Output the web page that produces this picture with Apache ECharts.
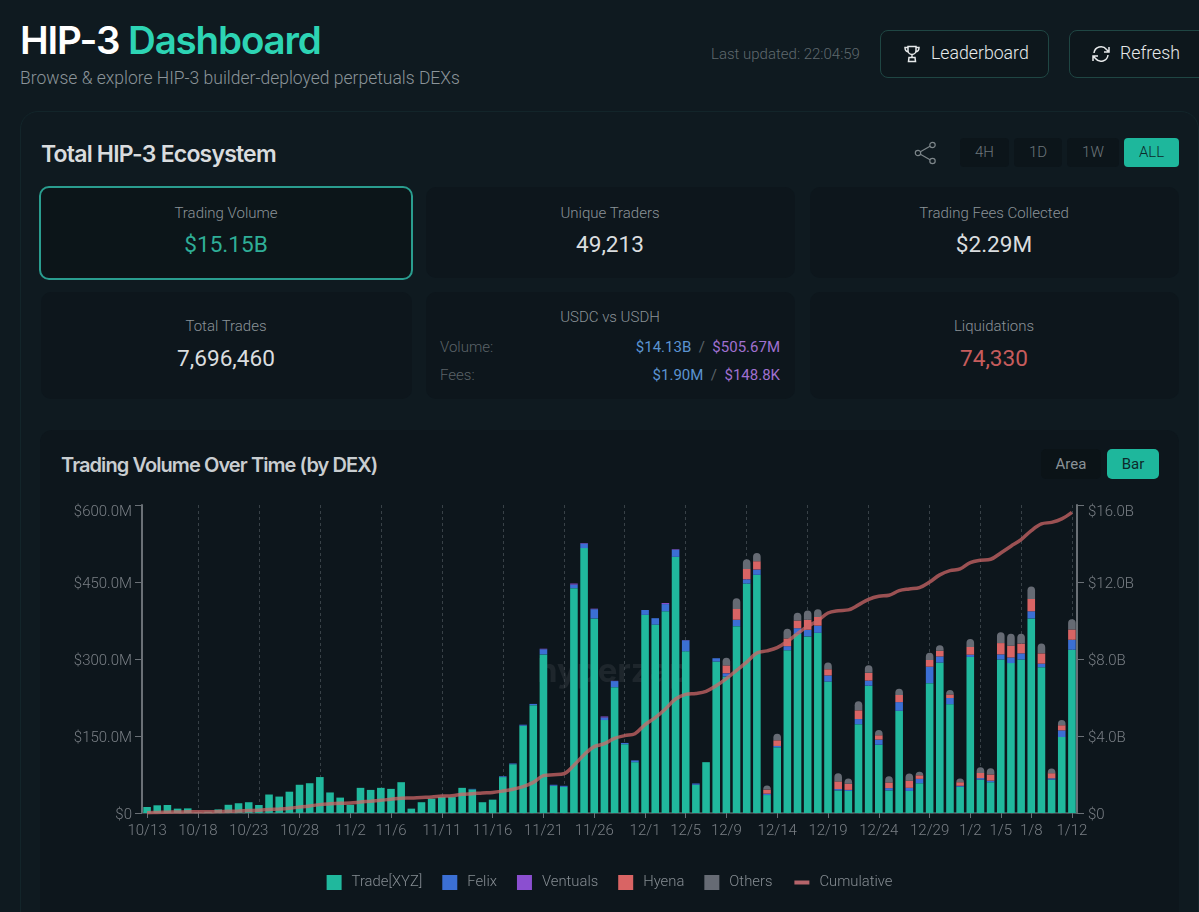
<!DOCTYPE html>
<html><head><meta charset="utf-8">
<script src="https://cdn.jsdelivr.net/npm/echarts@6/dist/echarts.min.js"></script>
<style>
html,body{margin:0;padding:0;width:1199px;height:912px;overflow:hidden;background:#0f1a20;font-family:Roboto,sans-serif}
.a{position:absolute;white-space:nowrap}
.title{left:20px;top:16px;font:600 38.5px/48px Inter,sans-serif;letter-spacing:-1.15px;color:#fff}
.title span{color:#2dd4b4}
.sub{left:20px;top:66px;font:300 17.5px/24px Roboto,sans-serif;color:#8b9499}
.upd{left:711px;top:44px;font:300 15px/20px Roboto,sans-serif;color:#5f696e}
.btn{box-sizing:border-box;top:30px;height:48px;border:1px solid #1f4643;border-radius:8px;background:#0d171c;color:#e6e9ea;font:300 17.7px/44px Roboto,sans-serif}
.btn svg{position:absolute;top:13px}
.panel{box-sizing:border-box;left:20px;top:111px;width:1179px;height:830px;border:1px solid #13252a;border-radius:18px;background:#0f1a20}
.h2{left:41px;top:139px;font:600 23px/30px Inter,sans-serif;letter-spacing:-.8px;color:#d9dcde}
.per{box-sizing:border-box;top:138px;height:29px;border-radius:4px;background:#0c151a;color:#6d767b;text-align:center;font:300 15px/29px Roboto,sans-serif}
.per.on{background:#1eb79c;color:#0d2a2a}
.card{box-sizing:border-box;border-radius:10px;background:#0d161c}
.card.sel{border:2px solid #2a9d8f;background:#0c1519}
.lb{transform:translateX(-50%);font:300 15px/20px Roboto,sans-serif;color:#8b9398}
.val{transform:translateX(-50%);font:400 22.6px/28px Roboto,sans-serif;color:#dadddf}
.rowl{font:300 15px/20px Roboto,sans-serif;color:#5b6368;left:440px}
.rowr{right:419px;font:400 15px/20px Roboto,sans-serif;color:#5b6368}
.b{color:#5b93d1}.p{color:#a070d0}
.chartcard{left:40px;top:430px;width:1139px;height:520px;border-radius:12px;background:#0d161c}
.h3{left:61px;top:451px;font:600 20px/28px Inter,sans-serif;letter-spacing:-.92px;color:#c9cdd0}
.tog{box-sizing:border-box;top:449px;height:30px;border-radius:5px;text-align:center;font:400 15px/31px Roboto,sans-serif;background:#0b1317;color:#8a9297}
.tog.on{background:#1eb79c;color:#0d2a2a}
#chart{position:absolute;left:40px;top:430px;width:1139px;height:482px}
</style></head><body>
<div class="a title">HIP-3 <span>Dashboard</span></div>
<div class="a sub">Browse &amp; explore HIP-3 builder-deployed perpetuals DEXs</div>
<div class="a upd">Last updated: 22:04:59</div>
<div class="a btn" style="left:880px;width:169px;padding-left:50px">
<svg style="left:21px" width="20" height="20" viewBox="0 0 20 20" fill="none" stroke="#e6e9ea" stroke-width="1.5"><path d="M6 2.500h8v4a4 4 0 0 1-8 0zM6 3.500H3c0 2.500 1 4 3.200 4.500M14 3.500h3c0 2.500-1 4-3.200 4.500M10 10.500v3M7 13.500h6l.5 4h-7z"/></svg>Leaderboard</div>
<div class="a btn" style="left:1069px;width:160px;padding-left:50px">
<svg style="left:21px" width="20" height="20" viewBox="0 0 20 20" fill="none" stroke="#e6e9ea" stroke-width="1.500"><path d="M3 9a7 7 0 0 1 12.500-3.500L18 8M18 3v5h-5M17 11a7 7 0 0 1-12.500 3.500L2 12M2 17v-5h5"/></svg>Refresh</div>
<div class="a panel"></div>
<div class="a h2">Total HIP-3 Ecosystem</div>
<svg class="a" style="left:914px;top:141px" width="23" height="24" viewBox="0 0 23 24" fill="none" stroke="#7d868a" stroke-width="1.200"><circle cx="18.500" cy="4" r="2.700"/><circle cx="4" cy="12" r="2.700"/><circle cx="18.500" cy="20" r="2.700"/><path d="M6.400 10.700L16 5.300M6.400 13.300L16 18.700"/></svg>
<div class="a per" style="left:960px;width:49px">4H</div>
<div class="a per" style="left:1014px;width:48px">1D</div>
<div class="a per" style="left:1067px;width:52px">1W</div>
<div class="a per on" style="left:1124px;width:55px">ALL</div>

<div class="a card sel" style="left:39px;top:186px;width:374px;height:94px"></div>
<div class="a lb" style="left:226px;top:203px">Trading Volume</div>
<div class="a val" style="left:226px;top:231px;color:#2fae97">$15.15B</div>
<div class="a card" style="left:426px;top:187px;width:369px;height:91px"></div>
<div class="a lb" style="left:610px;top:203px">Unique Traders</div>
<div class="a val" style="left:610px;top:231px">49,213</div>
<div class="a card" style="left:810px;top:187px;width:369px;height:91px"></div>
<div class="a lb" style="left:994px;top:203px">Trading Fees Collected</div>
<div class="a val" style="left:994px;top:231px">$2.29M</div>

<div class="a card" style="left:41px;top:292px;width:371px;height:107px"></div>
<div class="a lb" style="left:226px;top:316px">Total Trades</div>
<div class="a val" style="left:226px;top:345px">7,696,460</div>
<div class="a card" style="left:426px;top:292px;width:369px;height:107px"></div>
<div class="a lb" style="left:610px;top:307px">USDC vs USDH</div>
<div class="a rowl" style="top:337px">Volume:</div>
<div class="a rowr" style="top:337px"><span class="b">$14.13B</span>&nbsp; / &nbsp;<span class="p">$505.67M</span></div>
<div class="a rowl" style="top:365px">Fees:</div>
<div class="a rowr" style="top:365px"><span class="b">$1.90M</span>&nbsp; / &nbsp;<span class="p">$148.8K</span></div>
<div class="a card" style="left:810px;top:292px;width:369px;height:107px"></div>
<div class="a lb" style="left:994px;top:316px">Liquidations</div>
<div class="a val" style="left:994px;top:345px;color:#c65c5c">74,330</div>

<div class="a chartcard"></div>
<div class="a h3">Trading Volume Over Time (by DEX)</div>
<div class="a tog" style="left:1041px;width:60px">Area</div>
<div class="a tog on" style="left:1107px;width:52px">Bar</div>
<div id="chart"></div>
<script>
const categories = ['10/13','10/14','10/15','10/16','10/17','10/18','10/19','10/20','10/21','10/22','10/23','10/24','10/25','10/26','10/27','10/28','10/29','10/30','10/31','11/1','11/2','11/3','11/4','11/5','11/6','11/7','11/8','11/9','11/10','11/11','11/12','11/13','11/14','11/15','11/16','11/17','11/18','11/19','11/20','11/21','11/22','11/23','11/24','11/25','11/26','11/27','11/28','11/29','11/30','12/1','12/2','12/3','12/4','12/5','12/6','12/7','12/8','12/9','12/10','12/11','12/12','12/13','12/14','12/15','12/16','12/17','12/18','12/19','12/20','12/21','12/22','12/23','12/24','12/25','12/26','12/27','12/28','12/29','12/30','12/31','1/1','1/2','1/3','1/4','1/5','1/6','1/7','1/8','1/9','1/10','1/11','1/12'];
const tickLabels = ['10/13','10/18','10/23','10/28','11/2','11/6','11/11','11/16','11/21','11/26','12/1','12/5','12/9','12/14','12/19','12/24','12/29','1/2','1/5','1/8','1/12'];
const gridDates = ['10/18','10/24','10/30','11/5','11/11','11/17','11/23','11/29','12/5','12/11','12/17','12/23','12/29','1/3','1/7','1/12'];
const tradeXYZ = [11.7,15,15.6,8.5,9,1,2.5,7,16,19,21,15.6,36,32,41.5,55,58,70,40,30,16,49,45,49,47,60,8.5,21,28,31,31,49,46,21,26,70,95,170,210,309,53,51,438,516,379,181,245,134,99,386,367,393,499,315,55,99,295,266,364,447,464,35,128,317,349,344,351,256,44,43,173,248,133,44,199,43,58,253,293,212,51,304,65,60,299,292,299,379,284,65,148,318];
const felix = [0,0,0,0,0,0,0,0,0,0,0,0,0,0,0,0,0,0,0,0,0,0,0,0,0,0,0,0,0,0,0,0,1,0,0,1.5,1.5,2,2.5,10,2,2,7,9,18,5,12,2.5,3.5,9.5,12.5,14,14,21.5,2.5,0,6.5,6,12,8,10,2.6,2.6,8,11,13,14,12,2.6,2,10,10,10,4.5,17,6,8.5,32,12,12,2,4.5,3,3,10,11,12,14,7,2.6,13,19.5];
const ventuals = [0,0,0,0,0,0,0,0,0,0,0,0,0,0,0,0,0,0,0,0,0,0,0,0,0,0,0,0,0,0,0,0,0,0,0,0,0,0,0,1,0,0,2,1,1,2,0.5,0,0,0,0,2,1,0.5,0,0,0,0.5,0.5,0.5,0.5,0,0,0,0,0,0,0,0,0,0,0,0,0,0,0,0,0,0,0,0,0,0,0,0,0,0,0,0,0,0,0];
const hyena = [0,0,0,0,0,0,0,0,0,0,0,0,0,0,0,0,0,0,0,0,0,0,0,0,0,0,0,0,0,0,0,0,0,0,0,0,0,0,0,0,0,0,0,0,0,0,0,0,0,0,0,0,0,0,0,0,0,15,21,20,16,8,11,15,15,19.5,17,12,15,12,17,15,8.5,11,14,14,7,13,11,7,7,15,10,12,22,23,19,24,20,10,10,20];
const others = [0,0,0,0,0,0,0,0,0,0,0,0,0,0,0,0,0,0,0,0,0,0,0,0,0,0,0,0,0,0,0,0,0,0,0,0,0,0,0,0,0,0,0,0,0,0,0,0,0,0,0,0,0,0,0,0,0,15,21,19,16,8,13,19,15,18,15,13,15.6,10,17.5,15,10,12,12,14,7,14,11,8.5,7,15.6,11,12,21,23,19,24,19,9,10,20];
const cumulative = [0.012,0.027,0.042,0.051,0.06,0.062,0.065,0.072,0.088,0.107,0.128,0.143,0.179,0.211,0.252,0.307,0.365,0.435,0.475,0.505,0.521,0.57,0.615,0.664,0.711,0.771,0.78,0.81,0.83,0.88,0.9,0.97,1.0,1.04,1.07,1.14,1.23,1.37,1.59,1.94,1.99,2.04,2.48,3.03,3.45,3.6,3.88,4.02,4.12,4.59,4.95,5.4,5.92,6.16,6.21,6.32,6.61,6.98,7.41,7.84,8.31,8.42,8.59,8.92,9.32,9.7,9.99,10.39,10.51,10.55,10.81,11.1,11.26,11.31,11.55,11.64,11.71,12.0,12.37,12.59,12.68,13.01,13.13,13.18,13.51,13.86,14.2,14.67,15.02,15.1,15.28,15.62];
const leftTicks = ['$0','$150.0M','$300.0M','$450.0M','$600.0M'];
const rightTicks = ['$0','$4.0B','$8.0B','$12.0B','$16.0B'];

const axisGrey = '#6a7076', textGrey = '#797f85';
const labelFont = {fontFamily:'Roboto',fontWeight:300,fontSize:15,color:textGrey};
const richLabels = {
  n:Object.assign({padding:[5,0,0,0]},labelFont),
  t:Object.assign({padding:[15,0,0,0]},labelFont)
};
const tagged = (list, i) => (i === list.length - 1 ? '{t|' : '{n|') + list[i] + '}';
const chart = echarts.init(document.getElementById('chart'), null, {renderer:'canvas'});
const barSeries = (name, data, color, extra) => Object.assign({name, type:'bar', stack:'v', data, barWidth:7.6, itemStyle:{color}, animation:false, emphasis:{disabled:true}}, extra||{});
chart.setOption({
  animation:false,
  backgroundColor:'transparent',
  textStyle:{fontFamily:'Roboto'},
  graphic:[{type:'text',left:497,top:226,z:-1,style:{text:'hyperzap',fontFamily:'Inter',fontWeight:700,fontSize:33,fill:'rgba(255,255,255,0.07)'}}],
  legend:{
    top:440,left:'center',itemWidth:15,itemHeight:15,itemGap:20,
    icon:'rect',
    textStyle:{fontFamily:'Roboto',fontWeight:300,fontSize:14.8,color:'#868d93',padding:[0,0,0,5]},
    data:['Trade[XYZ]','Felix','Ventuals','Hyena','Others',
      {name:'Cumulative',icon:'inherit',itemStyle:{opacity:0},lineStyle:{color:'#b5646a',width:4,opacity:1}}]
  },
  grid:{left:102,right:102,top:75,height:308,containLabel:false},
  xAxis:[{
    type:'category',data:categories,boundaryGap:true,
    axisLine:{lineStyle:{color:'#55686b',width:1.5}},
    axisTick:{show:true,alignWithLabel:true,length:5,lineStyle:{color:axisGrey},interval:(i,v)=>tickLabels.includes(v)},
    axisLabel:Object.assign({interval:(i,v)=>tickLabels.includes(v),margin:11,hideOverlap:false},labelFont),
    splitLine:{show:true,alignWithLabel:true,interval:(i,v)=>gridDates.includes(v),lineStyle:{color:'#384147',type:[3,3],width:1}}
  },{
    type:'category',position:'top',data:categories,
    axisLine:{show:true,lineStyle:{color:'#3d464c',type:[4,4],width:1}},axisTick:{show:false},axisLabel:{show:false},splitLine:{show:false}
  }],
  yAxis:[{
    type:'value',min:0,max:600,interval:150,
    axisLine:{show:true,lineStyle:{color:axisGrey,width:2}},
    axisTick:{show:true,length:7,lineStyle:{color:axisGrey}},
    axisLabel:{margin:10,rich:richLabels,formatter:v=>tagged(leftTicks,v/150)},
    splitLine:{show:false}
  },{
    type:'value',min:0,max:16,interval:4,position:'right',
    axisLine:{show:true,lineStyle:{color:axisGrey,width:2}},
    axisTick:{show:true,length:7,lineStyle:{color:axisGrey}},
    axisLabel:{margin:11,rich:richLabels,formatter:v=>tagged(rightTicks,v/4)},
    splitLine:{show:false}
  }],
  series:[
    barSeries('Trade[XYZ]',tradeXYZ,'#20b89d'),
    barSeries('Felix',felix,'#3b6fd4'),
    barSeries('Ventuals',ventuals,'#8b4fd0'),
    barSeries('Hyena',hyena,'#d96464'),
    barSeries('Others',others,'#666b74',{itemStyle:{color:'#666b74',borderRadius:[4,4,0,0]}}),
    {name:'Cumulative',type:'line',yAxisIndex:1,data:cumulative,smooth:0.35,symbol:'none',z:5,animation:false,
     lineStyle:{color:'rgba(205,102,102,0.74)',width:3.5},itemStyle:{color:'#a85a5e'},emphasis:{disabled:true}}
  ]
});
</script>
</body></html>
